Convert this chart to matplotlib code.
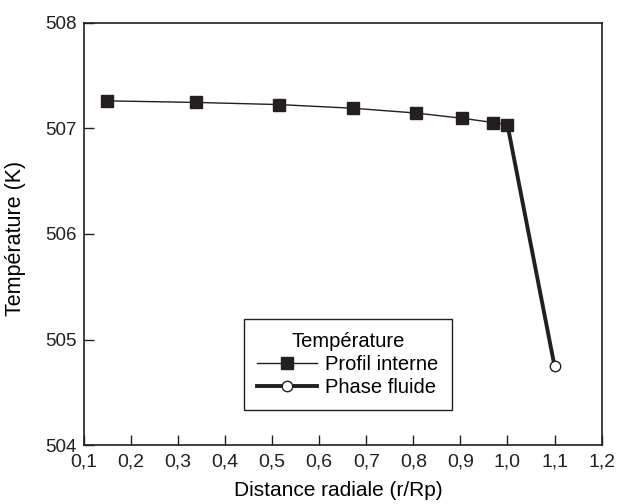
import matplotlib
matplotlib.use("Agg")
import matplotlib.pyplot as plt

plt.rcParams['font.family'] = ['Liberation Sans', 'DejaVu Sans']

# profil interne (carrés)
r_interne = [0.15, 0.339, 0.514, 0.672, 0.805, 0.904, 0.970, 1.0]
t_interne = [507.26, 507.245, 507.225, 507.19, 507.145, 507.095, 507.055, 507.035]

# phase fluide (ligne épaisse jusqu'au cercle)
r_fluide = [1.0, 1.1]
t_fluide = [507.035, 504.75]

xticks = [0.1, 0.2, 0.3, 0.4, 0.5, 0.6, 0.7, 0.8, 0.9, 1.0, 1.1, 1.2]
xticklabels = ["0,1", "0,2", "0,3", "0,4", "0,5", "0,6", "0,7", "0,8", "0,9", "1,0", "1,1", "1,2"]
yticks = [504, 505, 506, 507, 508]

fig = plt.figure(figsize=(6.17, 5.04), dpi=100)
ax = fig.add_axes([0.136, 0.1165, 0.839, 0.8385])

ax.plot(r_fluide, t_fluide, color="#231f20", lw=2.8, marker="o", markevery=[1],
        markersize=7.5, markerfacecolor="white", markeredgecolor="#231f20",
        markeredgewidth=1.0, label="Phase fluide", zorder=2)
ax.plot(r_interne, t_interne, color="#231f20", lw=1.0, marker="s", markersize=8,
        markerfacecolor="#231f20", markeredgecolor="#231f20",
        label="Profil interne", zorder=3)

ax.set_xlim(0.1, 1.2)
ax.set_ylim(504, 508)
ax.set_xticks(xticks)
ax.set_xticklabels(xticklabels)
ax.set_yticks(yticks)
ax.tick_params(direction="in", length=7, width=1.0, labelsize=14, colors="#231f20")
ax.tick_params(axis="x", pad=6)
ax.tick_params(axis="y", labelsize=13.5, pad=5)
for s in ax.spines.values():
    s.set_linewidth(1.2)
    s.set_color("#231f20")

ax.set_xlabel("Distance radiale (r/Rp)", fontsize=15)
ax.set_ylabel("Température (K)", fontsize=15.5)
ax.xaxis.set_label_coords(0.492, -0.084)
ax.yaxis.set_label_coords(-0.112, 0.49)

handles, labels = ax.get_legend_handles_labels()
leg = ax.legend(handles[::-1], labels[::-1], title="Température", loc="lower left",
                bbox_to_anchor=(0.309, 0.0835), borderaxespad=0,
                fontsize=14.5, title_fontsize=14.5,
                fancybox=False, edgecolor="#231f20", framealpha=1,
                handlelength=3.0, handletextpad=0.4, borderpad=0.65,
                labelspacing=0.2)
leg.get_frame().set_linewidth(1.0)

fig.savefig("out.png", dpi=100)
